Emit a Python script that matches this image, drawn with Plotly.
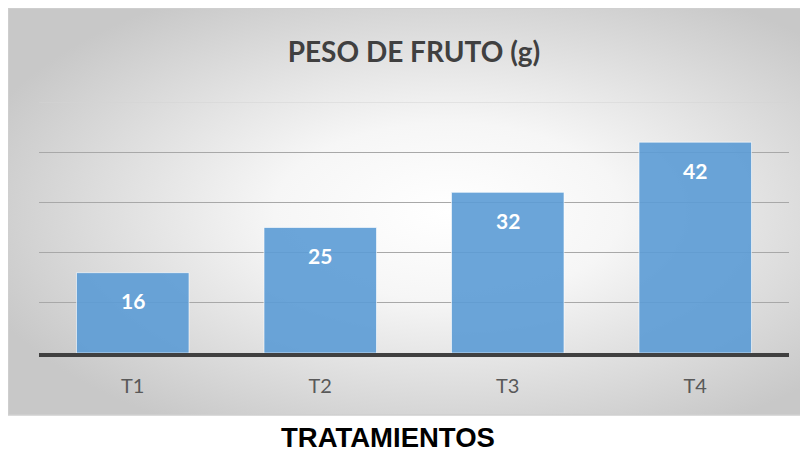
import base64
import plotly.graph_objects as go

categories = ["T1", "T2", "T3", "T4"]
values = [16, 25, 32, 42]
title_text = "PESO DE FRUTO (g)"
x_title = "TRATAMIENTOS"

svg = (
    '<svg xmlns="http://www.w3.org/2000/svg" width="800" height="407" preserveAspectRatio="none">'
    '<defs><radialGradient id="g" cx="55%" cy="50%" r="62%" fx="55%" fy="50%">'
    '<stop offset="0" stop-color="#ffffff"/>'
    '<stop offset="0.35" stop-color="#f6f6f6"/>'
    '<stop offset="1" stop-color="#c8c8c8"/>'
    '</radialGradient></defs>'
    '<rect width="800" height="407" fill="url(#g)"/></svg>'
)
bg_src = "data:image/svg+xml;base64," + base64.b64encode(svg.encode()).decode()

# page has an 8px body margin; figure coordinates below are relative to the figure
W, H = 800, 445
L, R, T, B = 31, 19, 94, 100
pw, ph = W - L - R, H - T - B

def px_to_paper_x(px):
    return (px - L) / pw

def px_to_paper_y(py):
    return (H - B - py) / ph

fig = go.Figure()
fig.add_trace(go.Bar(
    x=categories, y=values,
    marker=dict(color="rgba(91,155,213,0.9)", line=dict(color="rgba(255,255,255,0.6)", width=1)),
    width=0.6,
    hoverinfo="skip",
))

for c, v in zip(categories, values):
    fig.add_annotation(x=c, y=v, text=str(v), showarrow=False, yshift=-28,
                       font=dict(family="Lato", size=21, color="white", weight="bold"))

x0, x1 = px_to_paper_x(0), px_to_paper_x(800)
y0, y1 = px_to_paper_y(407), px_to_paper_y(0)

fig.add_layout_image(dict(source=bg_src, xref="paper", yref="paper",
                          x=x0, y=y1, sizex=x1 - x0, sizey=y1 - y0,
                          xanchor="left", yanchor="top", sizing="stretch", layer="below"))
fig.add_shape(type="rect", xref="paper", yref="paper", x0=x0, x1=x1 + 0.01, y0=y0, y1=y1,
              line=dict(color="#d0d0d0", width=1.5), layer="below")
# top gridline (lighter, at the top of the value range)
fig.add_shape(type="line", xref="paper", yref="y", x0=0, x1=1, y0=50, y1=50,
              line=dict(color="#d4d4d4", width=1), layer="below")

fig.add_annotation(xref="paper", yref="paper", x=px_to_paper_x(380), y=px_to_paper_y(429),
                   text=x_title, showarrow=False, xanchor="center", yanchor="middle",
                   font=dict(family="Liberation Sans", size=27.5, color="#000000", weight="bold"))

fig.update_layout(
    width=W, height=H,
    margin=dict(l=L, r=R, t=T, b=B),
    paper_bgcolor="white",
    plot_bgcolor="rgba(0,0,0,0)",
    showlegend=False,
    title=dict(text=title_text, x=0.5, xref="paper", y=1 - 44 / H, yref="container",
               xanchor="center", yanchor="middle",
               font=dict(family="Lato", size=28, color="#404040", weight="bold")),
    xaxis=dict(showline=True, linecolor="#404040", linewidth=4, ticks="",
               tickfont=dict(family="Lato", size=20, color="#595959"),
               ticklabelstandoff=12, showgrid=False),
    yaxis=dict(range=[0, 50], tickvals=[10, 20, 30, 40], showticklabels=False, showgrid=True,
               gridcolor="#a8a8a8", gridwidth=1, zeroline=False, showline=False),
)

fig.write_html("out.html")
